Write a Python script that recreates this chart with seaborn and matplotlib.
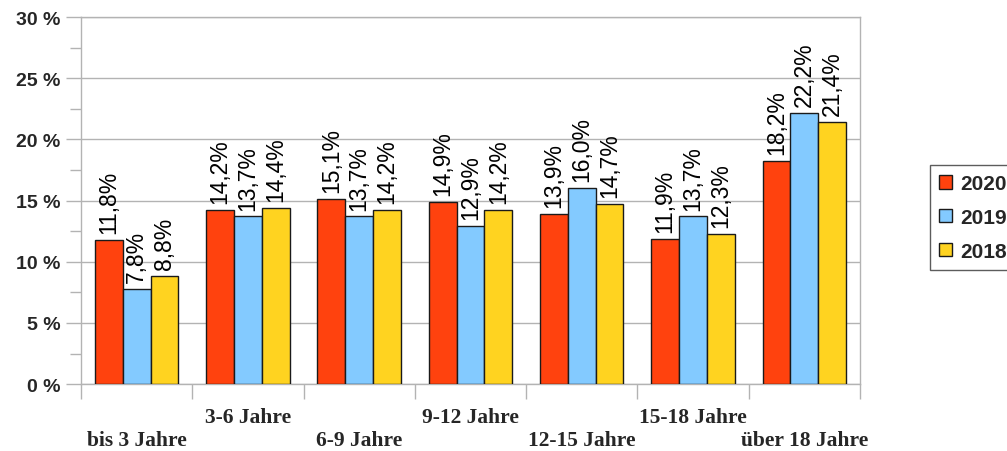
import matplotlib
matplotlib.use("Agg")
import matplotlib.pyplot as plt
import seaborn as sns
import pandas as pd
import numpy as np

# Age groups and yearly shares (percent)
categories = ["bis 3 Jahre", "3-6 Jahre", "6-9 Jahre", "9-12 Jahre",
              "12-15 Jahre", "15-18 Jahre", "über 18 Jahre"]
years = ["2020", "2019", "2018"]
values_2020 = [11.8, 14.2, 15.1, 14.9, 13.9, 11.9, 18.2]
values_2019 = [7.8, 13.7, 13.7, 12.9, 16.0, 13.7, 22.2]
values_2018 = [8.8, 14.4, 14.2, 14.2, 14.7, 12.3, 21.4]
colors = ["#FF420E", "#83CAFF", "#FFD320"]
y_ticks = [0, 5, 10, 15, 20, 25, 30]

df = pd.DataFrame({
    "Gruppe": categories * 3,
    "Jahr": [years[0]] * 7 + [years[1]] * 7 + [years[2]] * 7,
    "Anteil": values_2020 + values_2019 + values_2018,
})

sns.set_style("white")
plt.rcParams["font.family"] = ["Liberation Sans", "DejaVu Sans"]

fig = plt.figure(figsize=(10.07, 4.52), dpi=100)
ax = fig.add_axes([0.0804, 0.148, 0.854 - 0.0804, 0.960 - 0.148])

sns.barplot(data=df, x="Gruppe", y="Anteil", hue="Jahr", order=categories,
            hue_order=years, palette=colors, width=0.75, saturation=1,
            edgecolor="#1a1a1a", linewidth=1.0, ax=ax, zorder=3)

# Value labels above each bar
for container, yr in zip(ax.containers, years):
    labels = [f"{v:.1f}%".replace(".", ",") for v in container.datavalues]
    ax.bar_label(container, labels=labels, rotation=90, padding=5,
                 fontsize=16.5, color="black")

ax.set_xlim(-0.5, len(categories) - 0.5)
ax.set_ylim(0, 30)

# Y axis: major ticks with labels, minor ticks in between
ax.set_yticks(y_ticks)
ax.set_yticklabels([f"{t} %" for t in y_ticks], fontsize=14, fontweight="bold")
ax.set_yticks(np.arange(2.5, 30, 5), minor=True)
ax.tick_params(axis="y", which="major", length=11, width=1, color="#b3b3b3",
               direction="out", pad=4, left=True)
ax.tick_params(axis="y", which="minor", length=8, width=1, color="#b3b3b3",
               direction="out", left=True)
ax.yaxis.grid(True, which="major", color="#b3b3b3", linewidth=1, zorder=0)

# X axis: staggered category labels, tick marks at group boundaries
ax.set_xticks(range(len(categories)))
xlabels = [("\n" + c) if i % 2 == 0 else (c + "\n") for i, c in enumerate(categories)]
ax.set_xticklabels(xlabels, fontsize=15.5, fontweight="bold",
                   family=["Liberation Serif", "DejaVu Serif"], linespacing=1.2)
ax.tick_params(axis="x", which="major", length=0, pad=16.5)
ax.set_xticks(np.arange(-0.5, len(categories), 1), minor=True)
ax.tick_params(axis="x", which="minor", length=11, width=1, color="#b3b3b3",
               direction="out", bottom=True)

for side in ["left", "right", "bottom", "top"]:
    ax.spines[side].set_visible(True)
    ax.spines[side].set_color("#b3b3b3")
    ax.spines[side].set_linewidth(1)

ax.set_xlabel("")
ax.set_ylabel("")

leg = ax.legend(loc="upper left", bbox_to_anchor=(930 / 1007, 1 - 166 / 452),
                bbox_transform=fig.transFigure, frameon=True, fancybox=False,
                edgecolor="#333333", prop={"size": 15, "weight": "bold"},
                handlelength=0.6, handleheight=0.6, handletextpad=0.4,
                labelspacing=0.7, borderpad=0.45, borderaxespad=0)
leg.get_frame().set_linewidth(1)

fig.savefig("out.png", dpi=100)
